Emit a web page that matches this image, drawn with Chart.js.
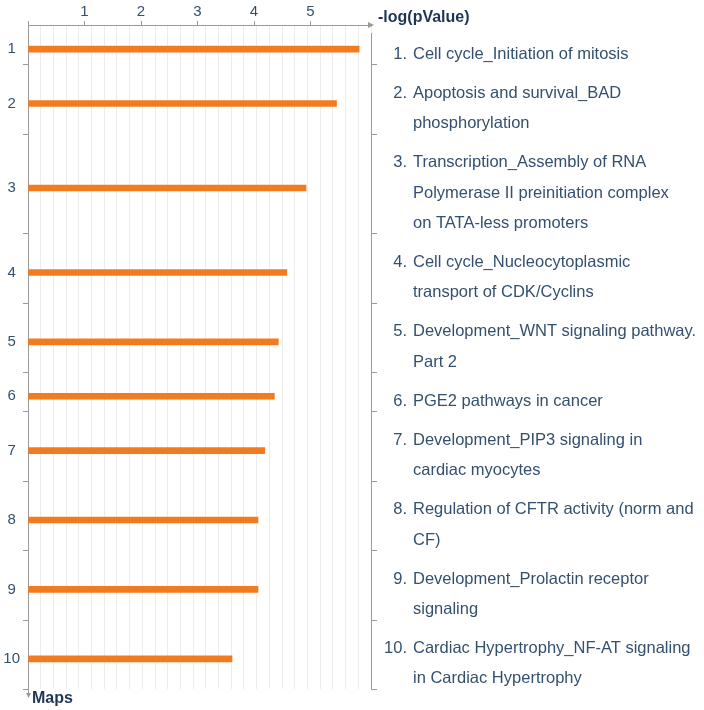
<!DOCTYPE html>
<html>
<head>
<meta charset="utf-8">
<script src="https://cdn.jsdelivr.net/npm/chart.js@4.4.1/dist/chart.umd.min.js"></script>
<style>
  html, body { margin: 0; padding: 0; background: #fff; }
  #wrap { width: 704px; height: 710px; position: relative; }
</style>
</head>
<body>
<div id="wrap"><canvas id="maps"></canvas></div>
<script>
// rank shown on the left axis
const ranks = ['1', '2', '3', '4', '5', '6', '7', '8', '9', '10'];

// map names, one array of wrapped lines per map (right-hand list)
const mapNames = [
  ['Cell cycle_Initiation of mitosis'],
  ['Apoptosis and survival_BAD', 'phosphorylation'],
  ['Transcription_Assembly of RNA', 'Polymerase II preinitiation complex', 'on TATA-less promoters'],
  ['Cell cycle_Nucleocytoplasmic', 'transport of CDK/Cyclins'],
  ['Development_WNT signaling pathway.', 'Part 2'],
  ['PGE2 pathways in cancer'],
  ['Development_PIP3 signaling in', 'cardiac myocytes'],
  ['Regulation of CFTR activity (norm and', 'CF)'],
  ['Development_Prolactin receptor', 'signaling'],
  ['Cardiac Hypertrophy_NF-AT signaling', 'in Cardiac Hypertrophy']
];

// -log(pValue) per map
const logP = [5.86, 5.46, 4.92, 4.58, 4.43, 4.36, 4.19, 4.07, 4.07, 3.61];

// x axis labels
const xTicks = [1, 2, 3, 4, 5];
const xMax = 6.07;

const FONT = "'Liberation Sans', Arial, sans-serif";
const TEXT = '#34506f';
const AXIS = '#9a9a9a';

// each map gets a slot as tall as its wrapped name (in text lines) plus a gap
const GAP = 0.3;
const tops = [];
const centers = [];
let acc = 0;
mapNames.forEach(lines => {
  tops.push(acc);
  centers.push(acc + GAP + lines.length / 2);
  acc += lines.length + GAP;
});
const yTotal = acc;

// light grid splits the axis in 27 parts
const gridVals = [];
for (let k = 0; k <= 27; k++) gridVals.push(k * xMax / 27);

const extras = {
  id: 'extras',
  afterDraw(chart) {
    const ctx = chart.ctx;
    const a = chart.chartArea;
    const ys = chart.scales.y;
    ctx.save();
    ctx.strokeStyle = AXIS;
    ctx.fillStyle = AXIS;
    ctx.lineWidth = 1;

    // right frame
    ctx.beginPath();
    ctx.moveTo(a.right + 0.5, a.top + 8);
    ctx.lineTo(a.right + 0.5, a.bottom);
    ctx.stroke();

    // slot boundary marks
    tops.slice(1).concat([yTotal]).forEach(v => {
      const y = Math.round(ys.getPixelForValue(v)) + 0.5;
      ctx.beginPath();
      ctx.moveTo(a.left - 5, y); ctx.lineTo(a.left, y);
      ctx.moveTo(a.right, y); ctx.lineTo(a.right + 6, y);
      ctx.stroke();
    });

    // x axis arrow
    ctx.beginPath();
    ctx.moveTo(a.right - 3, a.top - 3);
    ctx.lineTo(a.right + 3, a.top);
    ctx.lineTo(a.right - 3, a.top + 3);
    ctx.closePath();
    ctx.fill();

    // y axis arrow
    ctx.beginPath();
    ctx.moveTo(a.left + 0.5, a.bottom);
    ctx.lineTo(a.left + 0.5, a.bottom + 5);
    ctx.stroke();
    ctx.beginPath();
    ctx.moveTo(a.left - 2, a.bottom + 4);
    ctx.lineTo(a.left + 3, a.bottom + 4);
    ctx.lineTo(a.left + 0.5, a.bottom + 9);
    ctx.closePath();
    ctx.fill();

    // axis titles
    ctx.fillStyle = '#1f3552';
    ctx.font = 'bold 16px ' + FONT;
    ctx.textBaseline = 'middle';
    ctx.textAlign = 'left';
    ctx.fillText('-log(pValue)', a.right + 7, 18);
    ctx.fillText('Maps', a.left + 4, a.bottom + 10);

    // list of maps
    const unit = Math.abs(ys.getPixelForValue(1) - ys.getPixelForValue(0));
    ctx.fillStyle = TEXT;
    ctx.font = '16.5px ' + FONT;
    mapNames.forEach((lines, i) => {
      const mid = ys.getPixelForValue(centers[i]) + 5;
      lines.forEach((line, k) => {
        const y = mid + (k - (lines.length - 1) / 2) * unit;
        if (k === 0) {
          ctx.textAlign = 'right';
          ctx.fillText(ranks[i] + '.', 407, y);
        }
        ctx.textAlign = 'left';
        ctx.fillText(line, 413, y);
      });
    });
    ctx.restore();
  }
};

new Chart(document.getElementById('maps'), {
  type: 'bar',
  data: {
    datasets: [{
      data: logP.map((v, i) => ({ x: v, y: centers[i] })),
      backgroundColor: '#f37b1f',
      borderWidth: 0,
      barThickness: 6
    }]
  },
  options: {
    indexAxis: 'y',
    responsive: true,
    maintainAspectRatio: false,
    animation: false,
    layout: { padding: { left: 0, top: 0, right: 333, bottom: 21 } },
    plugins: { legend: { display: false }, tooltip: { enabled: false } },
    scales: {
      x: {
        type: 'linear',
        position: 'top',
        min: 0,
        max: xMax,
        afterBuildTicks: s => {
          s.ticks = gridVals.concat(xTicks).sort((p, q) => p - q).map(v => ({ value: v }));
        },
        afterFit: s => { s.height = 25; },
        ticks: {
          autoSkip: false,
          maxRotation: 0,
          padding: 0,
          color: TEXT,
          font: { family: FONT, size: 15 },
          callback: v => xTicks.includes(v) ? String(v) : ''
        },
        grid: {
          tickLength: 4,
          color: c => xTicks.includes(c.tick && c.tick.value) ? 'rgba(0,0,0,0)' : '#ececec',
          tickColor: c => (xTicks.includes(c.tick && c.tick.value) || c.index === 0) ? AXIS : 'rgba(0,0,0,0)'
        },
        border: { display: true, color: AXIS }
      },
      y: {
        type: 'linear',
        reverse: true,
        offset: false,
        min: 0,
        max: yTotal,
        afterBuildTicks: s => { s.ticks = centers.map(v => ({ value: v })); },
        afterFit: s => { s.width = 28; },
        ticks: {
          autoSkip: false,
          crossAlign: 'center',
          padding: 8,
          color: TEXT,
          font: { family: FONT, size: 15 },
          callback: (v, i) => ranks[i]
        },
        grid: { display: false, drawTicks: false, offset: false },
        border: { display: true, color: AXIS }
      }
    }
  },
  plugins: [extras]
});
</script>
</body>
</html>
